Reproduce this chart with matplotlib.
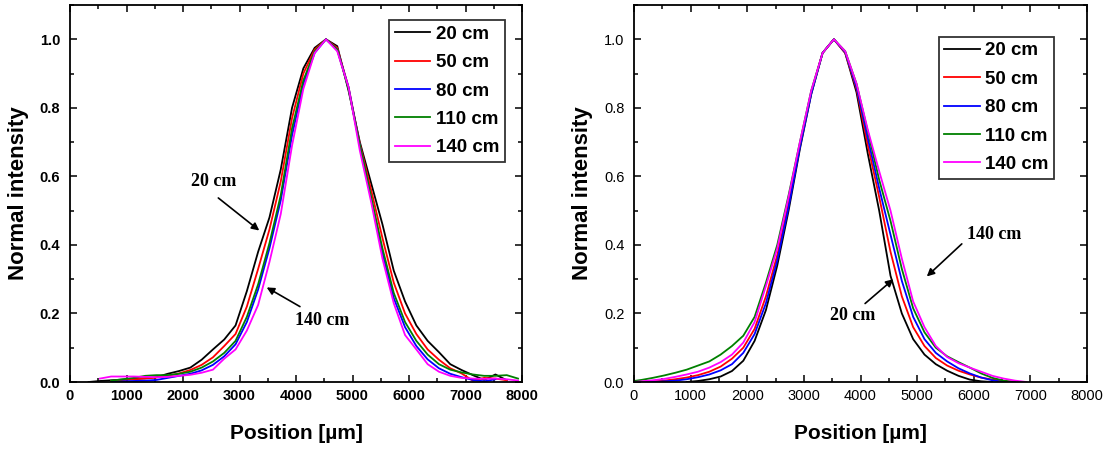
import numpy as np
import matplotlib
matplotlib.use("Agg")
import matplotlib.pyplot as plt
from matplotlib.ticker import MultipleLocator

plt.rcParams['font.family'] = ['Liberation Sans', 'DejaVu Sans']

nan = np.nan

# Position grid [um]
x_um = [0, 130, 330, 530, 730, 930, 1130, 1330, 1530, 1730, 1930, 2130, 2330, 2530,
        2730, 2930, 3130, 3330, 3530, 3730, 3930, 4130, 4330, 4530, 4730, 4930, 5130,
        5330, 5530, 5730, 5930, 6130, 6330, 6530, 6730, 6930, 7130, 7330, 7530, 7730, 7930]

labels = ["20 cm", "50 cm", "80 cm", "110 cm", "140 cm"]
colors = ["#000000", "#ff0000", "#0000ff", "#008000", "#ff00ff"]

# ---- Left panel ----
left_20 = [nan, nan, 0.0, 0.003, 0.005, 0.007, 0.009, 0.011, 0.014, 0.024, 0.032, 0.042, 0.065, 0.095,
           0.124, 0.165, 0.265, 0.38, 0.48, 0.62, 0.80, 0.915, 0.975, 1.0, 0.98, 0.85, 0.70,
           0.58, 0.46, 0.325, 0.235, 0.165, 0.12, 0.087, 0.052, 0.035, 0.02, 0.006, 0.022, 0.005, nan]
left_50 = [nan, nan, nan, nan, 0.003, 0.006, 0.008, 0.010, 0.013, 0.018, 0.025, 0.035, 0.05, 0.072,
           0.105, 0.14, 0.22, 0.33, 0.445, 0.585, 0.77, 0.9, 0.97, 1.0, 0.975, 0.86, 0.695,
           0.56, 0.42, 0.29, 0.2, 0.14, 0.095, 0.065, 0.04, 0.025, 0.004, 0.012, 0.01, 0.005, nan]
left_80 = [nan, nan, nan, nan, 0.0, 0.002, 0.003, 0.004, 0.006, 0.012, 0.018, 0.024, 0.034, 0.05,
           0.075, 0.11, 0.175, 0.27, 0.39, 0.53, 0.72, 0.87, 0.96, 1.0, 0.97, 0.86, 0.69,
           0.535, 0.375, 0.245, 0.16, 0.105, 0.066, 0.04, 0.024, 0.014, 0.006, 0.002, 0.008, nan, nan]
left_110 = [nan, nan, nan, nan, 0.004, 0.008, 0.012, 0.018, 0.02, 0.02, 0.024, 0.03, 0.042, 0.06,
            0.085, 0.12, 0.19, 0.285, 0.405, 0.545, 0.74, 0.88, 0.965, 1.0, 0.97, 0.855, 0.69,
            0.54, 0.39, 0.26, 0.175, 0.12, 0.08, 0.052, 0.036, 0.028, 0.022, 0.018, 0.018, 0.02, 0.01]
left_140 = [nan, nan, nan, 0.01, 0.016, 0.016, 0.016, 0.015, 0.014, 0.015, 0.018, 0.021, 0.027, 0.036,
            0.068, 0.095, 0.15, 0.225, 0.35, 0.49, 0.69, 0.855, 0.96, 1.0, 0.965, 0.86, 0.675,
            0.525, 0.36, 0.23, 0.137, 0.095, 0.052, 0.03, 0.018, 0.012, 0.01, 0.009, 0.01, 0.008, 0.004]

# ---- Right panel ----
right_20 = [nan, nan, nan, nan, nan, 0.0, 0.003, 0.008, 0.016, 0.032, 0.062, 0.12, 0.21, 0.34,
            0.50, 0.68, 0.84, 0.96, 1.0, 0.96, 0.845, 0.665, 0.50, 0.31, 0.20, 0.125, 0.08,
            0.052, 0.033, 0.018, 0.007, 0.002, 0.0, nan, nan, nan, nan, nan, nan, nan, nan]
right_50 = [nan, 0.0, 0.002, 0.004, 0.008, 0.013, 0.02, 0.03, 0.045, 0.068, 0.1, 0.155, 0.25, 0.37,
            0.52, 0.69, 0.845, 0.96, 1.0, 0.96, 0.855, 0.69, 0.54, 0.38, 0.25, 0.16, 0.105,
            0.07, 0.048, 0.033, 0.022, 0.013, 0.007, 0.003, 0.0, nan, nan, nan, nan, nan, nan]
right_80 = [nan, 0.0, 0.0, 0.002, 0.004, 0.008, 0.014, 0.022, 0.034, 0.052, 0.085, 0.14, 0.23, 0.355,
            0.51, 0.685, 0.84, 0.96, 1.0, 0.962, 0.86, 0.71, 0.565, 0.43, 0.295, 0.19, 0.125,
            0.085, 0.06, 0.04, 0.025, 0.013, 0.005, 0.0, nan, nan, nan, nan, nan, nan, nan]
right_110 = [0.003, 0.006, 0.012, 0.019, 0.027, 0.036, 0.048, 0.06, 0.08, 0.105, 0.135, 0.19, 0.29, 0.40,
             0.545, 0.70, 0.85, 0.96, 1.0, 0.965, 0.87, 0.73, 0.59, 0.47, 0.33, 0.215, 0.145,
             0.10, 0.075, 0.058, 0.042, 0.025, 0.012, 0.004, 0.0, nan, nan, nan, nan, nan, nan]
right_140 = [0.0, 0.002, 0.005, 0.009, 0.015, 0.022, 0.03, 0.042, 0.058, 0.08, 0.115, 0.175, 0.28, 0.39,
             0.54, 0.70, 0.85, 0.96, 1.0, 0.965, 0.87, 0.735, 0.615, 0.50, 0.36, 0.235, 0.16,
             0.105, 0.073, 0.055, 0.042, 0.03, 0.018, 0.01, 0.004, 0.0, nan, nan, nan, nan, nan]

left_series = [left_20, left_50, left_80, left_110, left_140]
right_series = [right_20, right_50, right_80, right_110, right_140]

W, H = 1109, 451
fig = plt.figure(figsize=(W / 100, H / 100), dpi=100)
axL = fig.add_axes([70 / W, (H - 382) / H, 452 / W, 377 / H])
axR = fig.add_axes([634 / W, (H - 382) / H, 453 / W, 377 / H])


def style(ax, bold_ticks):
    ax.set_xlim(0, 8000)
    ax.set_ylim(0, 1.1)
    ax.xaxis.set_major_locator(MultipleLocator(1000))
    ax.xaxis.set_minor_locator(MultipleLocator(500))
    ax.yaxis.set_major_locator(MultipleLocator(0.2))
    ax.yaxis.set_minor_locator(MultipleLocator(0.1))
    ax.yaxis.set_major_formatter(plt.FuncFormatter(lambda v, p: f"{v:.1f}"))
    ax.tick_params(which='both', direction='in', top=True, right=True, width=1.1)
    ax.tick_params(which='major', length=5)
    ax.tick_params(which='minor', length=3)
    ax.tick_params(axis='x', pad=5)
    ax.tick_params(axis='y', pad=7)
    for lab in ax.get_xticklabels() + ax.get_yticklabels():
        lab.set_fontsize(10.5)
        lab.set_fontweight('bold' if bold_ticks else 'normal')
    for s in ax.spines.values():
        s.set_linewidth(1.3)
    ax.set_xlabel("Position [µm]", fontsize=15, fontweight='bold', labelpad=15)
    ax.set_ylabel("Normal intensity", fontsize=16, fontweight='bold', labelpad=8)


for ax, series, anchor in [(axL, left_series, (0.962, 0.960)), (axR, right_series, (0.928, 0.916))]:
    for ys, c, lab in zip(series, colors, labels):
        ax.plot(x_um, ys, color=c, lw=1.3, label=lab)
    leg = ax.legend(loc='upper right', bbox_to_anchor=anchor, borderaxespad=0,
                    fancybox=False, framealpha=1, edgecolor='#333333',
                    prop={'weight': 'bold', 'size': 13.5}, handlelength=1.9,
                    handletextpad=0.3, labelspacing=0.6, borderpad=0.3)
    leg.get_frame().set_linewidth(1.3)

style(axL, True)
style(axR, False)

ann_font = dict(family=['Liberation Serif', 'DejaVu Serif'], fontweight='bold', fontsize=13,
                ha='center', va='center')
arrow = dict(arrowstyle='-|>', color='black', lw=1.2, mutation_scale=11, shrinkA=0, shrinkB=0)

axL.text(2540, 0.584, "20 cm", **ann_font)
axL.annotate('', xy=(3350, 0.442), xytext=(2625, 0.537), arrowprops=arrow)
axL.text(4470, 0.18, "140 cm", **ann_font)
axL.annotate('', xy=(3481, 0.276), xytext=(4070, 0.22), arrowprops=arrow)

axR.text(6357, 0.431, "140 cm", **ann_font)
axR.annotate('', xy=(5171, 0.308), xytext=(5789, 0.403), arrowprops=arrow)
axR.text(3870, 0.193, "20 cm", **ann_font)
axR.annotate('', xy=(4581, 0.30), xytext=(4081, 0.229), arrowprops=arrow)

fig.savefig("out.png", dpi=100)
